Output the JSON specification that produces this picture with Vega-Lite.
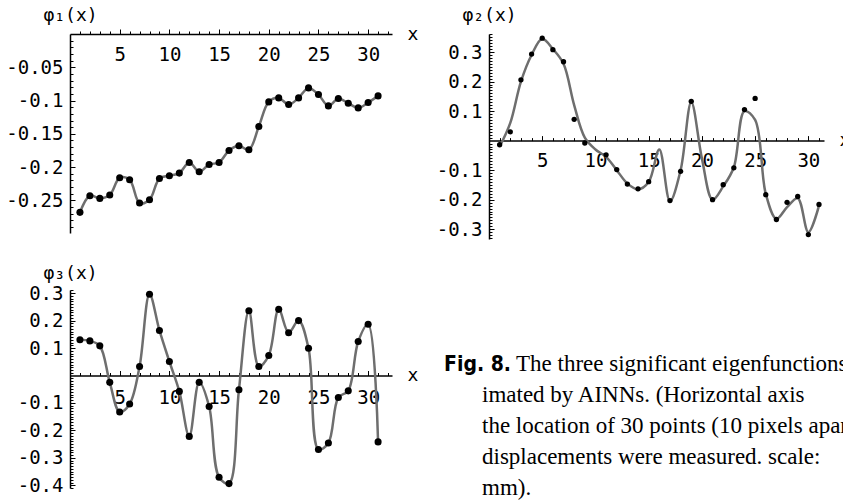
{
  "$schema": "https://vega.github.io/schema/vega-lite/v6.json",
  "background": "white",
  "padding": {"left": 5, "top": 6, "right": 0, "bottom": 0},
  "bounds": "flush",
  "columns": 2,
  "spacing": {"row": 51, "column": 97},
  "config": {
    "view": {"stroke": null},
    "axis": {
      "grid": false,
      "labelFont": "DejaVu Sans Mono",
      "labelFontSize": 19,
      "labelColor": "black",
      "domainColor": "black",
      "domainWidth": 1.5,
      "tickColor": "black",
      "tickWidth": 1,
      "titleFont": "DejaVu Sans Mono",
      "titleFontSize": 18,
      "titleFontWeight": "normal",
      "titleColor": "black"
    }
  },
  "datasets": {
    "phi1": [
      {"x": 1, "y": -0.268}, {"x": 2, "y": -0.243}, {"x": 3, "y": -0.247}, {"x": 4, "y": -0.242},
      {"x": 5, "y": -0.216}, {"x": 6, "y": -0.219}, {"x": 7, "y": -0.254}, {"x": 8, "y": -0.249},
      {"x": 9, "y": -0.217}, {"x": 10, "y": -0.213}, {"x": 11, "y": -0.209}, {"x": 12, "y": -0.193},
      {"x": 13, "y": -0.207}, {"x": 14, "y": -0.196}, {"x": 15, "y": -0.193}, {"x": 16, "y": -0.175},
      {"x": 17, "y": -0.168}, {"x": 18, "y": -0.174}, {"x": 19, "y": -0.139}, {"x": 20, "y": -0.102},
      {"x": 21, "y": -0.096}, {"x": 22, "y": -0.106}, {"x": 23, "y": -0.096}, {"x": 24, "y": -0.081},
      {"x": 25, "y": -0.091}, {"x": 26, "y": -0.108}, {"x": 27, "y": -0.097}, {"x": 28, "y": -0.104},
      {"x": 29, "y": -0.111}, {"x": 30, "y": -0.103}, {"x": 31, "y": -0.093}
    ],
    "phi2": [
      {"x": 1, "fit": -0.02, "obs": -0.014}, {"x": 2, "fit": 0.06, "obs": 0.03}, {"x": 3, "fit": 0.2, "obs": 0.206},
      {"x": 4, "fit": 0.29, "obs": 0.293}, {"x": 5, "fit": 0.345, "obs": 0.347}, {"x": 6, "fit": 0.31, "obs": 0.308},
      {"x": 7, "fit": 0.26, "obs": 0.267}, {"x": 8, "fit": 0.12, "obs": 0.072}, {"x": 9, "fit": 0.01, "obs": -0.008},
      {"x": 10, "fit": -0.03, "obs": null}, {"x": 11, "fit": -0.055, "obs": -0.048}, {"x": 12, "fit": -0.1, "obs": -0.098},
      {"x": 13, "fit": -0.145, "obs": -0.147}, {"x": 14, "fit": -0.165, "obs": -0.163}, {"x": 15, "fit": -0.14, "obs": -0.139},
      {"x": 16, "fit": -0.03, "obs": null}, {"x": 17, "fit": -0.205, "obs": -0.203}, {"x": 18, "fit": -0.1, "obs": -0.104},
      {"x": 19, "fit": 0.13, "obs": 0.133}, {"x": 20, "fit": -0.06, "obs": null}, {"x": 21, "fit": -0.2, "obs": -0.2},
      {"x": 22, "fit": -0.155, "obs": -0.149}, {"x": 23, "fit": -0.09, "obs": -0.092}, {"x": 24, "fit": 0.1, "obs": 0.105},
      {"x": 25, "fit": 0.07, "obs": 0.143}, {"x": 26, "fit": -0.18, "obs": -0.183}, {"x": 27, "fit": -0.265, "obs": -0.267},
      {"x": 28, "fit": -0.225, "obs": -0.209}, {"x": 29, "fit": -0.195, "obs": -0.189}, {"x": 30, "fit": -0.31, "obs": -0.318},
      {"x": 31, "fit": -0.22, "obs": -0.216}
    ],
    "phi3": [
      {"x": 1, "y": 0.13}, {"x": 2, "y": 0.126}, {"x": 3, "y": 0.108}, {"x": 4, "y": -0.025},
      {"x": 5, "y": -0.133}, {"x": 6, "y": -0.104}, {"x": 7, "y": 0.033}, {"x": 8, "y": 0.296},
      {"x": 9, "y": 0.164}, {"x": 10, "y": 0.051}, {"x": 11, "y": -0.058}, {"x": 12, "y": -0.222},
      {"x": 13, "y": -0.025}, {"x": 14, "y": -0.113}, {"x": 15, "y": -0.371}, {"x": 16, "y": -0.394},
      {"x": 17, "y": -0.052}, {"x": 18, "y": 0.236}, {"x": 19, "y": 0.033}, {"x": 20, "y": 0.073},
      {"x": 21, "y": 0.241}, {"x": 22, "y": 0.156}, {"x": 23, "y": 0.2}, {"x": 24, "y": 0.099},
      {"x": 25, "y": -0.27}, {"x": 26, "y": -0.246}, {"x": 27, "y": -0.08}, {"x": 28, "y": -0.056},
      {"x": 29, "y": 0.124}, {"x": 30, "y": 0.187}, {"x": 31, "y": -0.242}
    ],
    "caption": [
      {"line": 1, "part": "label", "indent": 0, "text": "Fig. 8."},
      {"line": 1, "part": "body", "indent": 72, "text": "The three significant eigenfunctions"},
      {"line": 2, "part": "body", "indent": 38, "text": "imated by AINNs. (Horizontal axis"},
      {"line": 3, "part": "body", "indent": 38, "text": "the location of 30 points (10 pixels apart)"},
      {"line": 4, "part": "body", "indent": 38, "text": "displacements were measured. scale:"},
      {"line": 5, "part": "body", "indent": 38, "text": "mm)."}
    ]
  },
  "concat": [
    {
      "width": 322,
      "height": 199,
      "data": {"name": "phi1"},
      "layer": [
        {
          "mark": {"type": "line", "interpolate": "catmull-rom", "color": "#6e6e6e", "strokeWidth": 2.5},
          "encoding": {
            "x": {"field": "x", "type": "quantitative",
              "scale": {"domain": [0, 32.4], "nice": false, "zero": false},
              "axis": {"orient": "bottom", "offset": -199, "values": [5, 10, 15, 20, 25, 30], "tickSize": -5, "labelPadding": 16,
                "title": "x", "titleAngle": 0, "titleX": 337, "titleY": 0, "titleAlign": "left", "titleBaseline": "middle"}},
            "y": {"field": "y", "type": "quantitative",
              "scale": {"domain": [-0.299, 0], "nice": false, "zero": false},
              "axis": {"orient": "left", "values": [-0.25, -0.2, -0.15, -0.1, -0.05], "tickSize": -5, "labelPadding": 12,
                "labelExpr": "(datum.value < 0 ? '-' : '') + format(abs(datum.value), '.2~f')",
                "title": "φ₁(x)", "titleAngle": 0, "titleX": 0, "titleY": -14, "titleAlign": "center", "titleBaseline": "alphabetic"}}
          }
        },
        {
          "mark": {"type": "point", "filled": true, "color": "black", "opacity": 1, "size": 50},
          "encoding": {
            "x": {"field": "x", "type": "quantitative",
              "axis": {"orient": "bottom", "offset": -199, "values": [1,2,3,4,6,7,8,9,11,12,13,14,16,17,18,19,21,22,23,24,26,27,28,29,31,32],
                "tickSize": -3, "labels": false, "domain": false, "title": null}},
            "y": {"field": "y", "type": "quantitative",
              "axis": {"orient": "left", "values": [-0.29,-0.28,-0.27,-0.26,-0.24,-0.23,-0.22,-0.21,-0.19,-0.18,-0.17,-0.16,-0.14,-0.13,-0.12,-0.11,-0.09,-0.08,-0.07,-0.06,-0.04,-0.03,-0.02,-0.01],
                "tickSize": -3, "labels": false, "domain": false, "title": null}}
          }
        }
      ],
      "resolve": {"axis": {"x": "independent", "y": "independent"}}
    },
    {
      "width": 335,
      "height": 205,
      "data": {"name": "phi2"},
      "layer": [
        {
          "mark": {"type": "line", "interpolate": "catmull-rom", "color": "#6e6e6e", "strokeWidth": 2.5},
          "encoding": {
            "x": {"field": "x", "type": "quantitative",
              "scale": {"domain": [0, 31.47], "nice": false, "zero": false},
              "axis": {"orient": "bottom", "offset": -98.4, "values": [5, 10, 15, 20, 25, 30], "tickSize": -5, "labelPadding": 16,
                "title": "x", "titleAngle": 0, "titleX": 350, "titleY": 0, "titleAlign": "left", "titleBaseline": "middle"}},
            "y": {"field": "fit", "type": "quantitative",
              "scale": {"domain": [-0.333, 0.361], "nice": false, "zero": false},
              "axis": {"orient": "left", "values": [-0.3, -0.2, -0.1, 0.1, 0.2, 0.3], "tickSize": -5, "labelPadding": 12,
                "labelExpr": "(datum.value < 0 ? '-' : '') + format(abs(datum.value), '.2~f')",
                "title": "φ₂(x)", "titleAngle": 0, "titleX": 0, "titleY": -14, "titleAlign": "center", "titleBaseline": "alphabetic"}}
          }
        },
        {
          "mark": {"type": "point", "filled": true, "color": "black", "opacity": 1, "size": 28},
          "encoding": {
            "x": {"field": "x", "type": "quantitative",
              "axis": {"orient": "bottom", "offset": -98.4, "values": [1,2,3,4,6,7,8,9,11,12,13,14,16,17,18,19,21,22,23,24,26,27,28,29,31],
                "tickSize": -3, "labels": false, "domain": false, "title": null}},
            "y": {"field": "obs", "type": "quantitative",
              "axis": {"orient": "left", "values": [-0.33,-0.32,-0.31,-0.29,-0.28,-0.27,-0.26,-0.25,-0.24,-0.23,-0.22,-0.21,-0.19,-0.18,-0.17,-0.16,-0.15,-0.14,-0.13,-0.12,-0.11,-0.09,-0.08,-0.07,-0.06,-0.05,-0.04,-0.03,-0.02,-0.01,0.01,0.02,0.03,0.04,0.05,0.06,0.07,0.08,0.09,0.11,0.12,0.13,0.14,0.15,0.16,0.17,0.18,0.19,0.21,0.22,0.23,0.24,0.25,0.26,0.27,0.28,0.29,0.31,0.32,0.33,0.34,0.35,0.36],
                "tickSize": -3, "labels": false, "domain": false, "title": null}}
          }
        }
      ],
      "resolve": {"axis": {"x": "independent", "y": "independent"}}
    },
    {
      "width": 322,
      "height": 198,
      "data": {"name": "phi3"},
      "layer": [
        {
          "mark": {"type": "line", "interpolate": "catmull-rom", "color": "#6e6e6e", "strokeWidth": 2.5},
          "encoding": {
            "x": {"field": "x", "type": "quantitative",
              "scale": {"domain": [0, 32.4], "nice": false, "zero": false},
              "axis": {"orient": "bottom", "offset": -112.5, "values": [5, 10, 15, 20, 25, 30], "tickSize": -5, "labelPadding": 18,
                "title": "x", "titleAngle": 0, "titleX": 337, "titleY": 0, "titleAlign": "left", "titleBaseline": "middle"}},
            "y": {"field": "y", "type": "quantitative",
              "scale": {"domain": [-0.41, 0.3115], "nice": false, "zero": false},
              "axis": {"orient": "left", "values": [-0.4, -0.3, -0.2, -0.1, 0.1, 0.2, 0.3], "tickSize": -5, "labelPadding": 12,
                "labelExpr": "(datum.value < 0 ? '-' : '') + format(abs(datum.value), '.2~f')",
                "title": "φ₃(x)", "titleAngle": 0, "titleX": 0, "titleY": -12, "titleAlign": "center", "titleBaseline": "alphabetic"}}
          }
        },
        {
          "mark": {"type": "point", "filled": true, "color": "black", "opacity": 1, "size": 50},
          "encoding": {
            "x": {"field": "x", "type": "quantitative",
              "axis": {"orient": "bottom", "offset": -112.5, "values": [1,2,3,4,6,7,8,9,11,12,13,14,16,17,18,19,21,22,23,24,26,27,28,29,31,32],
                "tickSize": -3, "labels": false, "domain": false, "title": null}},
            "y": {"field": "y", "type": "quantitative",
              "axis": {"orient": "left", "values": [-0.41,-0.39,-0.38,-0.37,-0.36,-0.35,-0.34,-0.33,-0.32,-0.31,-0.29,-0.28,-0.27,-0.26,-0.25,-0.24,-0.23,-0.22,-0.21,-0.19,-0.18,-0.17,-0.16,-0.15,-0.14,-0.13,-0.12,-0.11,-0.09,-0.08,-0.07,-0.06,-0.05,-0.04,-0.03,-0.02,-0.01,0.01,0.02,0.03,0.04,0.05,0.06,0.07,0.08,0.09,0.11,0.12,0.13,0.14,0.15,0.16,0.17,0.18,0.19,0.21,0.22,0.23,0.24,0.25,0.26,0.27,0.28,0.29,0.31],
                "tickSize": -3, "labels": false, "domain": false, "title": null}}
          }
        }
      ],
      "resolve": {"axis": {"x": "independent", "y": "independent"}}
    },
    {
      "width": 335,
      "height": 198,
      "data": {"name": "caption"},
      "encoding": {
        "x": {"field": "indent", "type": "quantitative", "scale": {"domain": [45, 380], "nice": false, "zero": false}, "axis": null},
        "y": {"field": "line", "type": "quantitative", "scale": {"domain": [-1.6, 4.787], "reverse": true, "nice": false, "zero": false}, "axis": null},
        "text": {"field": "text"}
      },
      "layer": [
        {
          "transform": [{"filter": "datum.part === 'label'"}],
          "mark": {"type": "text", "align": "left", "baseline": "alphabetic", "font": "DejaVu Sans Condensed, Roboto Condensed, Roboto, sans-serif", "fontWeight": "bold", "fontSize": 21, "color": "black", "clip": false}
        },
        {
          "transform": [{"filter": "datum.part === 'body'"}],
          "mark": {"type": "text", "align": "left", "baseline": "alphabetic", "font": "Liberation Serif", "fontSize": 23, "color": "black", "clip": false}
        }
      ]
    }
  ]
}
